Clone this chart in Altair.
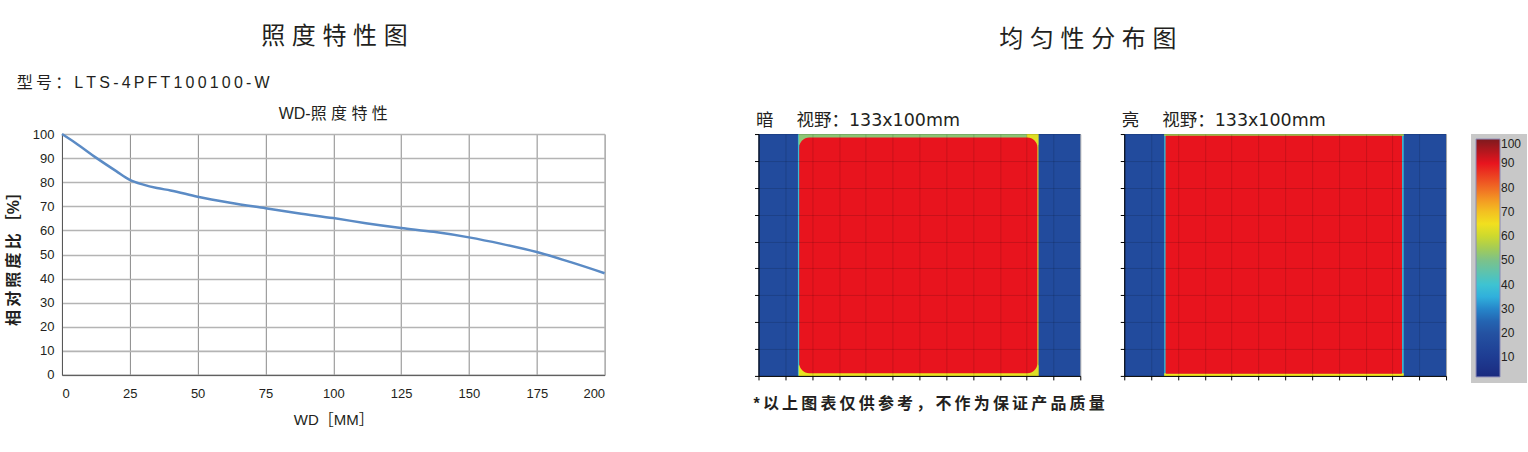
import altair as alt
import pandas as pd

FONT = "'Liberation Sans', 'Noto Sans CJK SC', sans-serif"
WIDE = "'DejaVu Sans', 'Noto Sans CJK SC', sans-serif"
TEXT = "#231f20"
THIN = "\u2009"

# ---- WD vs relative illuminance ----
wd_mm = [0, 5, 12.8, 20, 25, 30, 35, 40, 50, 62, 75, 87, 100, 112, 125, 137, 150, 162, 175, 187.5, 200]
ratio_pct = [100, 96.3, 90, 84.6, 81, 79, 77.6, 76.6, 74, 71.5, 69.2, 67.1, 65.1, 63, 61, 59.4, 57.1, 54.4, 51, 46.8, 42.2]
x_ticks = [0, 25, 50, 75, 100, 125, 150, 175, 200]
y_ticks = [0, 10, 20, 30, 40, 50, 60, 70, 80, 90, 100]

curve = pd.DataFrame({"wd": wd_mm, "ratio": ratio_pct})

line = alt.Chart(curve).mark_line(
    color="#5b8bc5", strokeWidth=2.5, interpolate="monotone"
).encode(
    x=alt.X("wd:Q", scale=alt.Scale(domain=[0, 200], nice=False),
            axis=alt.Axis(values=x_ticks, title="WD［MM］", grid=True, gridColor="#8a8a8a",
                          gridWidth=1, tickSize=0, domainColor="#555", labelPadding=13,
                          labelFontSize=13, titleFontSize=15, titleFontWeight="normal",
                          titlePadding=12, labelAngle=0)),
    y=alt.Y("ratio:Q", scale=alt.Scale(domain=[0, 100], nice=False),
            axis=alt.Axis(values=y_ticks, title=THIN.join("相对照度比") + THIN + "［%］",
                          grid=True, gridColor="#b4b4b4",
                          gridWidth=1.6, tickSize=0, domainColor="#555", labelPadding=8,
                          labelFontSize=13, titleFontSize=16, titleFontWeight="bold",
                          titlePadding=11)),
).properties(
    width=543, height=241,
    title=alt.TitleParams("WD-照 度 特 性", fontSize=16, fontWeight="normal", anchor="middle", offset=6),
)

left = alt.vconcat(
    alt.vconcat(line).properties(
        title=alt.TitleParams(THIN.join("型号：LTS-4PFT100100-W"), fontSize=16, fontWeight="normal",
                              anchor="start", offset=15, dx=12)
    )
).properties(
    title=alt.TitleParams("照 度 特 性 图", fontSize=24, fontWeight="normal", anchor="middle",
                          offset=26, dx=27)
)

# ---- uniformity maps: regions in grid units (12 x 9 cells over 133x100mm) ----
color_domain = [2, 10, 20, 28, 33, 40, 50, 58, 64, 72, 80, 90, 100]
color_range = ["#1a2a7e", "#1e3c92", "#2452a2", "#2470bc", "#2aa8e0", "#3ec3d2", "#7cc28a",
               "#bcd236", "#f0e61e", "#f4b422", "#f06a24", "#e8141e", "#7e1a1e"]
legend_values = [10, 20, 30, 40, 50, 60, 70, 80, 90, 100]

# dark field: background, edge bands, rounded core
dark_x0 = [0, 1.47, 1.50, 1.50, 10.0]
dark_x1 = [12, 1.53, 10.44, 10.44, 10.44]
dark_y0 = [0, 0, 8.6, 0, 0]
dark_y1 = [9, 9, 9, 0.4, 9]
dark_v = [17, 38, 52, 63, 62]
dark_core = {"x0": [1.52], "x1": [10.40], "y0": [0.10], "y1": [8.87], "v": [90]}

# bright field
bright_x0 = [0, 1.49, 1.49, 1.49]
bright_x1 = [12, 10.42, 10.42, 10.42]
bright_y0 = [0, 0, 0, 8.93]
bright_y1 = [9, 9, 0.1, 9]
bright_v = [17, 38, 64, 55]
bright_core = {"x0": [1.54], "x1": [10.36], "y0": [0.08], "y1": [8.94], "v": [90]}

grid_x = list(range(0, 13))
grid_y = list(range(0, 10))

color_scale = alt.Scale(domain=color_domain, range=color_range, interpolate="rgb")
colorbar = alt.Legend(
    title=None, orient="none", legendX=347, legendY=0, direction="vertical",
    gradientLength=238, gradientThickness=24, gradientStrokeColor="#8a8ab8",
    gradientStrokeWidth=1, values=legend_values, labelFontSize=12, labelColor=TEXT,
    labelOffset=1, padding=5, fillColor="#c8c8c8", labelFont=FONT,
)


def field_map(x0, x1, y0, y1, v, core, radius, label, legend):
    bands = pd.DataFrame({"x0": x0, "x1": x1, "y0": y0, "y1": y1, "v": v})
    xs = alt.Scale(domain=[0, 12], nice=False)
    ys = alt.Scale(domain=[0, 9], nice=False)
    xa = alt.Axis(values=grid_x, labels=False, title=None, tickSize=4, tickColor="#000",
                  domainColor="#000", grid=True, gridColor="#000", gridOpacity=0.14, zindex=1)
    ya = alt.Axis(values=grid_y, labels=False, title=None, tickSize=4, tickColor="#000",
                  domainColor="#000", grid=True, gridColor="#000", gridOpacity=0.14, zindex=1)
    color = alt.Color("v:Q", scale=color_scale, legend=legend)
    base = alt.Chart(bands).mark_rect().encode(
        x=alt.X("x0:Q", scale=xs, axis=xa), x2="x1:Q",
        y=alt.Y("y0:Q", scale=ys, axis=ya), y2="y1:Q",
        color=color,
    )
    top = alt.Chart(pd.DataFrame(core)).mark_rect(cornerRadius=radius).encode(
        x=alt.X("x0:Q", scale=xs, axis=xa), x2="x1:Q",
        y=alt.Y("y0:Q", scale=ys, axis=ya), y2="y1:Q",
        color=color,
    )
    return alt.layer(base, top).properties(
        width=322, height=242,
        view=alt.ViewBackground(stroke="#c0c0c0"),
        title=alt.TitleParams(label, font=WIDE, fontSize=17.5, fontWeight="normal", anchor="start",
                              offset=4, dx=2),
    )


dark_map = field_map(dark_x0, dark_x1, dark_y0, dark_y1, dark_v, dark_core, 10,
                     "暗　 视野：133x100mm", None)
bright_map = field_map(bright_x0, bright_x1, bright_y0, bright_y1, bright_v, bright_core, 1,
                       "亮　 视野：133x100mm", colorbar)

footer = THIN.join("*以上图表仅供参考，不作为保证产品质量")

right = alt.vconcat(
    alt.hconcat(dark_map, bright_map, spacing=38).resolve_scale(color="independent").properties(
        title=alt.TitleParams(footer, orient="bottom", anchor="start", fontSize=16,
                              fontWeight="bold", offset=13, dx=0)
    )
).properties(
    title=alt.TitleParams("均 匀 性 分 布 图", fontSize=24, fontWeight="normal", anchor="start",
                          offset=60, dx=246)
)

chart = alt.hconcat(left, right, spacing=143).resolve_scale(color="independent").properties(
    padding={"left": 4, "top": 24, "right": 0, "bottom": 0},
    background="white",
).configure(
    font=FONT,
).configure_axis(
    labelFont=FONT, titleFont=FONT, labelColor=TEXT, titleColor=TEXT,
).configure_title(
    font=FONT, color=TEXT,
).configure_view(
    strokeWidth=1,
)

chart.save("out.html", embed_options={"renderer": "svg", "actions": False})
